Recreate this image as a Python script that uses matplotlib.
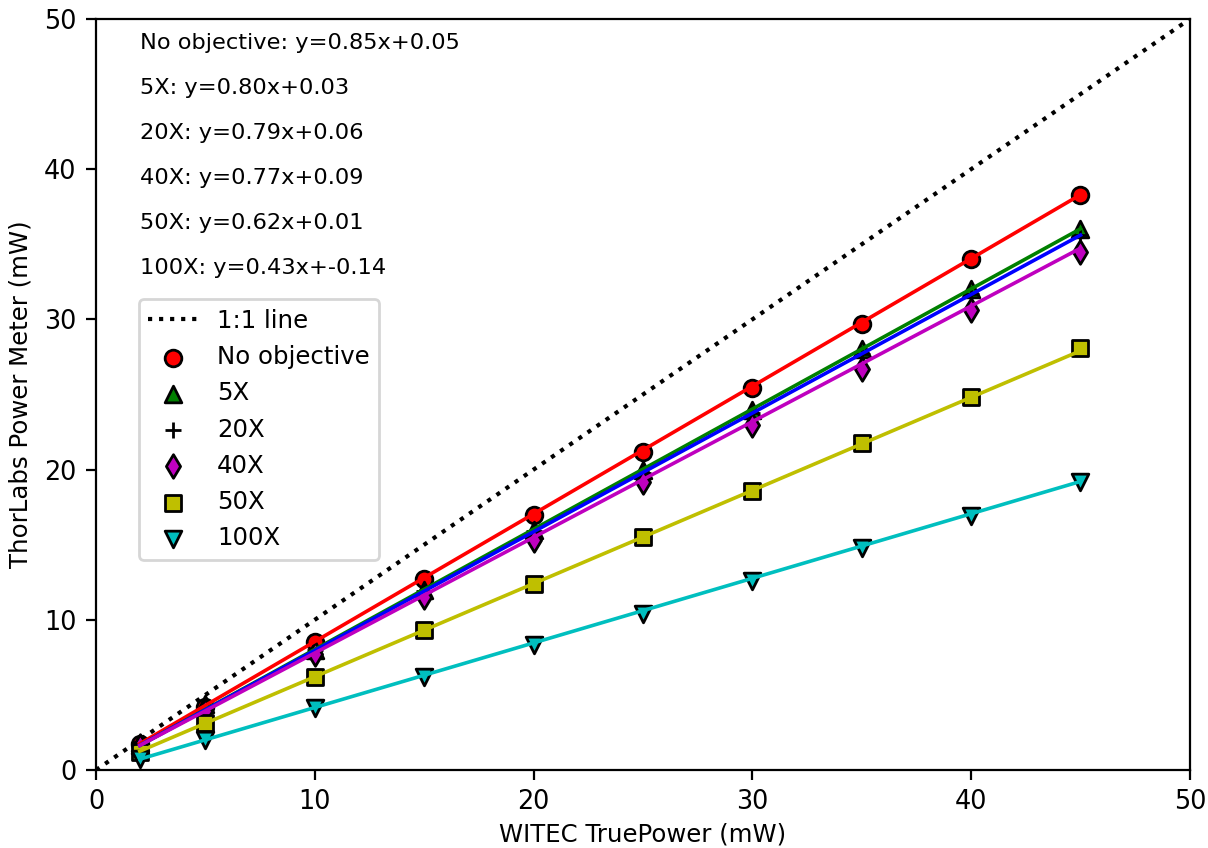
import numpy as np
import matplotlib
matplotlib.use('Agg')
import matplotlib.pyplot as plt

# WITEC TruePower setpoints (mW)
power_set = [2, 5, 10, 15, 20, 25, 30, 35, 40, 45]

# ThorLabs readings for each objective (mW)
no_obj = [1.7, 4.2, 8.5, 12.7, 17.0, 21.2, 25.4, 29.7, 34.0, 38.3]
obj_5x = [1.65, 4.4, 8.0, 12.0, 16.0, 20.0, 24.0, 28.0, 32.0, 36.0]
obj_20x = [1.6, 4.0, 8.0, 11.9, 15.9, 19.8, 23.8, 27.7, 31.7, 35.6]
obj_40x = [1.6, 3.9, 7.7, 11.5, 15.3, 19.2, 23.0, 26.7, 30.6, 34.5]
obj_50x = [1.2, 3.1, 6.2, 9.3, 12.4, 15.5, 18.6, 21.8, 24.8, 28.1]
obj_100x = [0.75, 2.0, 4.1, 6.2, 8.3, 10.4, 12.6, 14.8, 16.9, 19.2]

names = ['No objective', '5X', '20X', '40X', '50X', '100X']
slopes = [0.85, 0.80, 0.79, 0.77, 0.62, 0.43]
intercepts = [0.05, 0.03, 0.06, 0.09, 0.01, -0.14]

readings = [no_obj, obj_5x, obj_20x, obj_40x, obj_50x, obj_100x]
colors = ['r', 'g', 'b', 'm', 'y', 'c']
markers = ['o', '^', '+', 'd', 's', 'v']

fig = plt.figure(figsize=(6.04, 4.24), dpi=200)
ax = fig.add_axes([0.0795, 0.092, 0.9055, 0.8856])

x = np.array(power_set)
ax.plot([0, 50], [0, 50], 'k:', linewidth=1.5, label='1:1 line')

for name, y, c, m, k, b in zip(names, readings, colors, markers, slopes, intercepts):
    if m == '+':
        ax.scatter(x, y, color='k', marker=m, s=36, linewidths=1.0, label=name)
    else:
        ax.scatter(x, y, color=c, marker=m, s=36, edgecolors='k', linewidths=1.0, label=name)
    ax.plot(x, k * x + b, color=c, linewidth=1.3)

# fit equations in the top left corner
for i, (name, k, b) in enumerate(zip(names, slopes, intercepts)):
    ax.text(2, 48 - 3 * i, f'{name}: y={k:.2f}x+{b:.2f}', fontsize=8.1)

ax.set_xlim(0, 50)
ax.set_ylim(0, 50)
ax.set_xlabel('WITEC TruePower (mW)', fontsize=8.8, labelpad=2.5)
ax.set_ylabel('ThorLabs Power Meter (mW)', fontsize=8.8)
ax.tick_params(labelsize=9.2)
ax.legend(loc='upper left', bbox_to_anchor=(0.039, 0.627), borderaxespad=0, fontsize=8.8)

fig.savefig('out.png', dpi=200)
